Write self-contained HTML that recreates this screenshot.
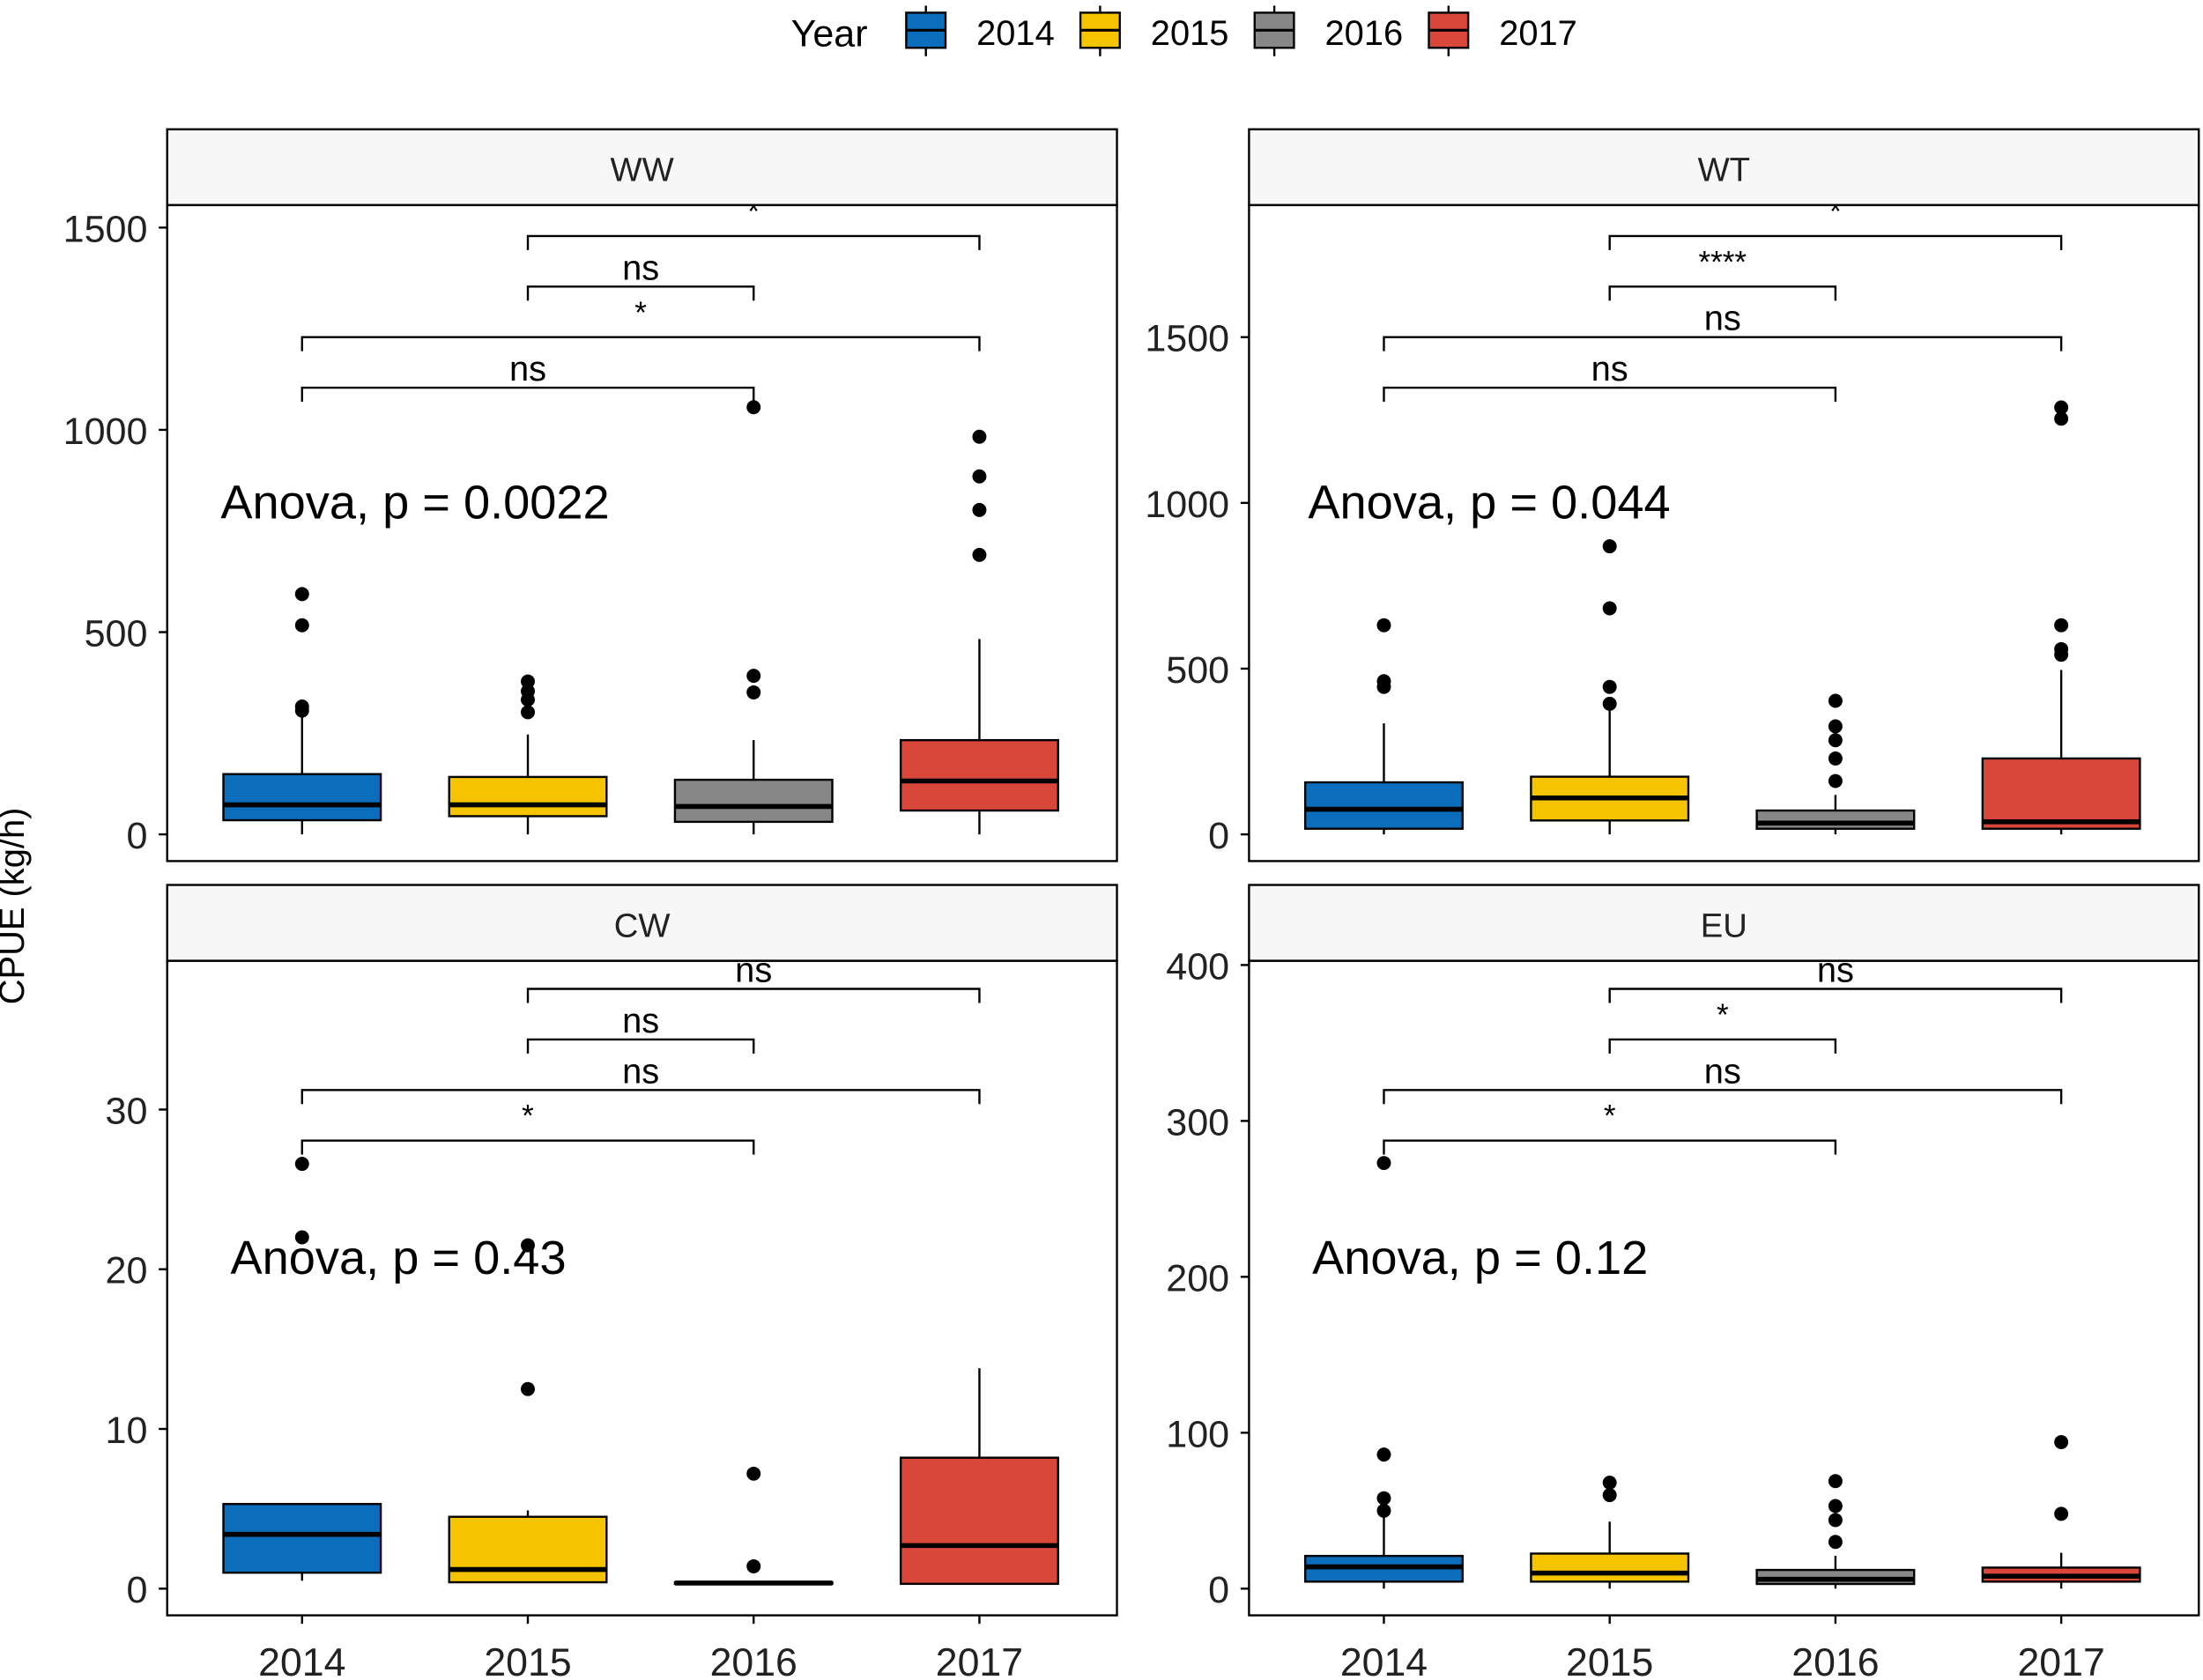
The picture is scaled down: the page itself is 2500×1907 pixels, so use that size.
<!DOCTYPE html>
<html><head><meta charset="utf-8"><style>
html,body{margin:0;padding:0;background:#fff}
svg{display:block;font-family:"Liberation Sans",sans-serif}
</style></head><body>
<svg id="chart" width="2500" height="1907" viewBox="0 0 1568 1196" xmlns="http://www.w3.org/2000/svg">
<rect width="1568" height="1196" fill="#fff"/>
<g id="legend"></g>
<text x="17" y="645" font-size="25" text-anchor="middle" transform="rotate(-90 17 645)">CPUE (kg/h)</text>
<g id="panels"></g>
</svg>
<script>
const years = ["2014","2015","2016","2017"];
const colors = ["#0a6ebd","#f5c300","#878787","#d8473a"];
const panelNames = ["WW","WT","CW","EU"];
const anovaLabels = ["Anova, p = 0.0022","Anova, p = 0.044","Anova, p = 0.43","Anova, p = 0.12"];
const yTicksWW = [0,500,1000,1500];
const yTicksWT = [0,500,1000,1500];
const yTicksCW = [0,10,20,30];
const yTicksEU = [0,100,200,300,400];
// [lowWhisker, q1, median, q3, highWhisker]
const statsWW = [[0,35,73,149,309],[0,45,73,142,247],[0,31,69,135,233],[0,59,132,233,483]];
const statsWT = [[0,17,76,157,335],[0,42,110,174,398],[0,17,34,72,119],[0,17,38,229,496]];
const statsCW = [[0.5,1.0,3.4,5.3,5.3],[0.4,0.4,1.2,4.5,4.9],[0.3,0.3,0.35,0.4,0.4],[0.3,0.3,2.7,8.2,13.8]];
const statsEU = [[0,4.5,14,21,46],[0,4.5,10,22.5,43],[0,3,6,12,21],[0,4.5,8,13.5,23]];
const outWW = [[594,517,316,306],[378,354,333,302],[392,351,1056],[691,802,885,983]];
const outWT = [[462,445,631],[445,682,869,394],[161,229,284,326,403],[542,559,631,1254,1288]];
const outCW = [[26.6,22],[12.5,21.5],[1.4,7.2],[]];
const outEU = [[50,58,86,273],[60,68],[30,44,53,69],[48,94]];
const sigWW = ["*","ns","*","ns"];
const sigWT = ["*","****","ns","ns"];
const sigCW = ["ns","ns","ns","*"];
const sigEU = ["ns","*","ns","*"];
const bracketPairs = [[1,3],[1,2],[0,3],[0,2]];

const NS="http://www.w3.org/2000/svg";
function mk(tag,attrs,parent){const e=document.createElementNS(NS,tag);for(const k in attrs)e.setAttribute(k,attrs[k]);parent.appendChild(e);return e;}

const lg=document.getElementById('legend');
const yl=mk('text',{x:563,y:33,'font-size':27},lg);yl.textContent="Year";


years.forEach((y,i)=>{
  const x0=643+i*124;
  const g=mk('g',{},lg);
  
  
  mk('line',{x1:x0+16,x2:x0+16,y1:4,y2:40,stroke:'#000','stroke-width':1.5},g);
  mk('rect',{x:x0+2,y:9,width:28,height:25,fill:colors[i],stroke:'#000','stroke-width':1.5},g);
  mk('line',{x1:x0+2,x2:x0+30,y1:21.5,y2:21.5,stroke:'#000','stroke-width':2},g);
  const t=mk('text',{x:x0+52,y:32,'font-size':25},g);t.textContent=y;
});

const panels=[
 {x0:119,x1:795,sy:92,py0:146,py1:613,zero:594,k:144/500,ticks:yTicksWW,stats:statsWW,outs:outWW,sig:sigWW,by:168,ax:157,ay:369},
 {x0:889,x1:1565,sy:92,py0:146,py1:613,zero:594,k:118/500,ticks:yTicksWT,stats:statsWT,outs:outWT,sig:sigWT,by:168,ax:931,ay:369},
 {x0:119,x1:795,sy:630,py0:684,py1:1150,zero:1131,k:11.37,ticks:yTicksCW,stats:statsCW,outs:outCW,sig:sigCW,by:704,ax:164,ay:907},
 {x0:889,x1:1565,sy:630,py0:684,py1:1150,zero:1131,k:1.11,ticks:yTicksEU,stats:statsEU,outs:outEU,sig:sigEU,by:704,ax:934,ay:907}
];
const root=document.getElementById('panels');
panels.forEach((p,pi)=>{
  const yS=v=>p.zero-v*p.k;
  const xS=i=>p.x0+96+i*160.7;
  const g=mk('g',{},root);
  
  
  const cid='clip'+pi;
  const cp=mk('clipPath',{id:cid},g);mk('rect',{x:p.x0,y:p.py0,width:p.x1-p.x0,height:p.py1-p.py0},cp);
  const strip=mk('rect',{x:p.x0,y:p.sy,width:p.x1-p.x0,height:p.py0-p.sy,fill:'#f7f7f7',stroke:'#000','stroke-width':1.5},g);
  
  
  const st=mk('text',{x:(p.x0+p.x1)/2,y:p.sy+37,'font-size':24,'text-anchor':'middle',fill:'#222'},g);st.textContent=panelNames[pi];
  
  
  p.ticks.forEach(t=>{
    const y=yS(t);
    mk('line',{x1:p.x0-6,x2:p.x0,y1:y,y2:y,stroke:'#000','stroke-width':1.5},g);
    const tt=mk('text',{x:p.x0-14,y:y+10,'font-size':27,'text-anchor':'end',fill:'#222'},g);tt.textContent=t;
    
    
  });
  const inner=mk('g',{'clip-path':'url(#'+cid+')'},g);
  p.stats.forEach((s,i)=>{
    const cx=xS(i),w=112;
    const bg=mk('g',{},inner);
    
    
    mk('line',{x1:cx,x2:cx,y1:yS(s[0]),y2:yS(s[4]),stroke:'#000','stroke-width':1.5},bg);
    mk('rect',{x:cx-w/2,y:yS(s[3]),width:w,height:Math.max(yS(s[1])-yS(s[3]),1),fill:colors[i],stroke:'#000','stroke-width':1.5},bg);
    mk('line',{x1:cx-w/2,x2:cx+w/2,y1:yS(s[2]),y2:yS(s[2]),stroke:'#000','stroke-width':3.5},bg);
    p.outs[i].forEach(v=>{
      const c=mk('circle',{cx:cx,cy:yS(v),r:5,fill:'#000'},bg);
      
      
    });
  });
  bracketPairs.forEach((bp,j)=>{
    const y=p.by+j*36;
    const a=xS(bp[0]),b=xS(bp[1]);
    const br=mk('g',{},inner);
    
    
    mk('path',{d:`M${a} ${y+10}V${y}H${b}V${y+10}`,fill:'none',stroke:'#000','stroke-width':1.5},br);
    const isNs=p.sig[j]==='ns';
    const lt=mk('text',{x:(a+b)/2,y:isNs?y-5:y-10,'font-size':isNs?25:22,'text-anchor':'middle'},br);lt.textContent=p.sig[j];
  });
  const an=mk('text',{x:p.ax,y:p.ay,'font-size':34},g);an.textContent=anovaLabels[pi];
  
  
  mk('rect',{x:p.x0,y:p.py0,width:p.x1-p.x0,height:p.py1-p.py0,fill:'none',stroke:'#000','stroke-width':1.5},g);
  if(pi>=2){
    years.forEach((y,i)=>{
      mk('line',{x1:xS(i),x2:xS(i),y1:p.py1,y2:p.py1+6,stroke:'#000','stroke-width':1.5},g);
      const xt=mk('text',{x:xS(i),y:1193,'font-size':28,'text-anchor':'middle',fill:'#222'},g);xt.textContent=y;
      
      
    });
  }
});
</script>
</body></html>
